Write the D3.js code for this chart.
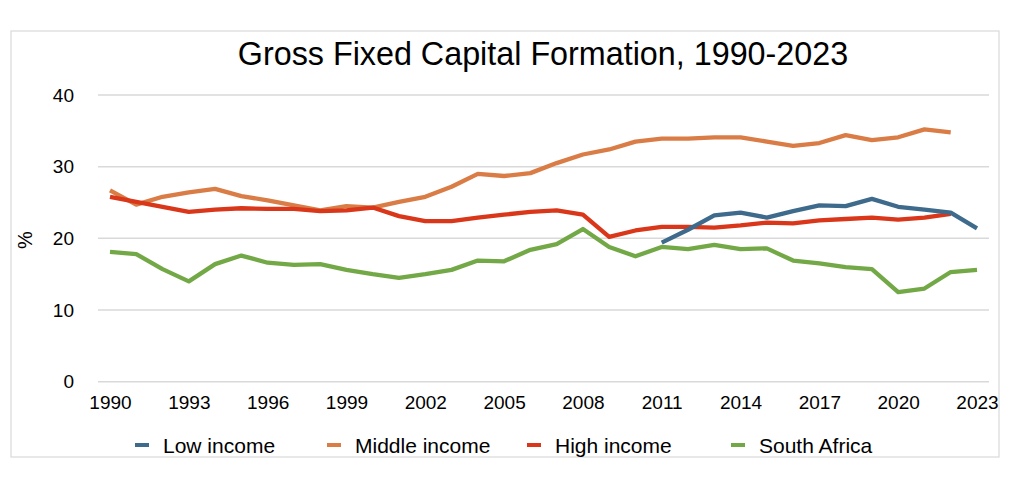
<!DOCTYPE html>
<html><head><meta charset="utf-8">
<script src="https://cdn.jsdelivr.net/npm/d3@7"></script>
<style>
body{margin:0;background:#fff;}
svg{display:block;font-family:"Liberation Sans",Arial,Helvetica,sans-serif;}
</style></head>
<body><svg id="c" width="1024" height="492"></svg>
<script>
const years = d3.range(1990, 2024);
const xTickYears = [1990,1993,1996,1999,2002,2005,2008,2011,2014,2017,2020,2023];
const yTicks = [0,10,20,30,40];
const seriesNames = ["Low income","Middle income","High income","South Africa"];
const seriesColors = ["#3e6a8c","#da7c45","#d9361a","#72a845"];

const lowIncome = [null,null,null,null,null,null,null,null,null,null,null,null,null,null,null,null,null,null,null,null,null,
  19.4,21.2,23.2,23.6,22.9,23.8,24.6,24.5,25.5,24.4,24.0,23.6,21.4];
const middleIncome = [26.7,24.7,25.8,26.4,26.9,25.9,25.3,24.6,23.9,24.5,24.3,25.1,25.8,27.2,29.0,28.7,29.1,30.5,31.7,32.4,33.5,
  33.9,33.9,34.1,34.1,33.5,32.9,33.3,34.4,33.7,34.1,35.2,34.8,null];
const highIncome = [25.8,25.1,24.4,23.7,24.0,24.2,24.1,24.1,23.8,23.9,24.3,23.1,22.4,22.4,22.9,23.3,23.7,23.9,23.3,20.2,21.1,
  21.6,21.6,21.5,21.8,22.2,22.1,22.5,22.7,22.9,22.6,22.9,23.4,null];
const southAfrica = [18.1,17.8,15.7,14.0,16.4,17.6,16.6,16.3,16.4,15.6,15.0,14.5,15.0,15.6,16.9,16.8,18.4,19.2,21.3,18.8,17.5,
  18.8,18.5,19.1,18.5,18.6,16.9,16.5,16.0,15.7,12.5,13.0,15.3,15.6];
const seriesValues = [lowIncome, middleIncome, highIncome, southAfrica];

const svg = d3.select("#c");
// outer border
svg.append("rect").attr("x",11).attr("y",31).attr("width",988).attr("height",426)
  .attr("fill","#fff").attr("stroke","#d9d9d9").attr("stroke-width",1.2);

svg.append("text").attr("x",543).attr("y",65).attr("text-anchor","middle")
  .attr("font-size",32.3).attr("fill","#000").text("Gross Fixed Capital Formation, 1990-2023");

const x = d3.scaleLinear().domain([1990,2023]).range([110,977]);
const y = d3.scaleLinear().domain([0,40]).range([381.7,95]);

// gridlines
svg.append("g").selectAll("line").data(yTicks).join("line")
  .attr("x1",98).attr("x2",989).attr("y1",d=>y(d)).attr("y2",d=>y(d))
  .attr("stroke","#d9d9d9").attr("stroke-width",1.5);

// y axis labels
const yAxis = d3.axisLeft(y).tickValues(yTicks).tickSize(0).tickPadding(0);
const gy = svg.append("g").attr("transform","translate(74,0)").call(yAxis);
gy.select(".domain").remove();
gy.selectAll("text").attr("font-size",19).attr("fill","#000").attr("font-family","Liberation Sans, Arial, sans-serif");

// x axis labels
const xAxis = d3.axisBottom(x).tickValues(xTickYears).tickFormat(d3.format("d")).tickSize(0).tickPadding(0);
const gx = svg.append("g").attr("transform","translate(0,395)").call(xAxis);
gx.select(".domain").remove();
gx.selectAll("text").attr("font-size",19).attr("fill","#000").attr("font-family","Liberation Sans, Arial, sans-serif");

svg.append("text").attr("transform","translate(32,240) rotate(-90)").attr("text-anchor","middle")
  .attr("font-size",20).attr("fill","#000").text("%");

// lines
const line = d3.line().defined(d=>d.v!=null).x(d=>x(d.yr)).y(d=>y(d.v));
const order = [3,1,2,0];
order.forEach(i=>{
  const data = years.map((yr,k)=>({yr, v: seriesValues[i][k]}));
  svg.append("path").datum(data).attr("d",line).attr("fill","none")
    .attr("stroke",seriesColors[i]).attr("stroke-width",4.3).attr("stroke-linejoin","round");
});

// legend
const legX = [135,327,527,731];
const lg = svg.append("g").selectAll("g").data(seriesNames).join("g")
  .attr("transform",(d,i)=>`translate(${legX[i]},445)`);
lg.append("line").attr("x1",0).attr("x2",14).attr("y1",0).attr("y2",0)
  .attr("stroke",(d,i)=>seriesColors[i]).attr("stroke-width",4);
lg.append("text").attr("x",28).attr("y",7.5).attr("font-size",21).attr("fill","#000").text(d=>d);
</script></body></html>
